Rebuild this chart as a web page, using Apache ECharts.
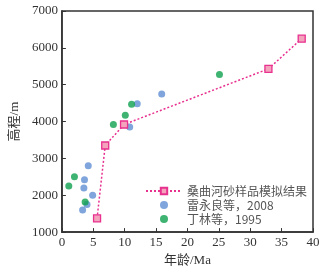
<!DOCTYPE html>
<html><head><meta charset="utf-8">
<script src="https://cdn.jsdelivr.net/npm/echarts@6/dist/echarts.min.js"></script>
<style>html,body{margin:0;padding:0;background:#fff}#c{width:330px;height:272px}</style>
</head><body><div id="c"></div>
<script>
const modelAge = [5.6, 6.9, 9.9, 32.9, 38.2];
const modelElev = [1370, 3350, 3920, 5430, 6250];
const leiAge = [4.2, 3.6, 3.5, 4.9, 4.0, 3.3, 10.8, 12.0, 15.9];
const leiElev = [2800, 2420, 2200, 2000, 1750, 1600, 3850, 4480, 4750];
const dingAge = [2.0, 1.1, 3.7, 8.2, 10.1, 11.1, 25.1];
const dingElev = [2500, 2250, 1820, 3920, 4170, 4470, 5280];
const names = ['桑曲河砂样品模拟结果', '雷永良等，2008', '丁林等，1995'];

const zip = (a, b) => a.map((v, i) => [v, b[i]]);
const F = 'Liberation Serif, "Noto Sans CJK SC", serif';
const axisCol = '#333';
const chart = echarts.init(document.getElementById('c'));
chart.setOption({
  animation: false,
  grid: {left: 56.5, right: 17, top: 11, bottom: 33, show: true, borderColor: axisCol, borderWidth: 1.5},
  xAxis: {
    type: 'value', min: 0, max: 40, interval: 5,
    name: '年龄/Ma', nameLocation: 'middle', nameGap: 17,
    nameTextStyle: {fontFamily: F, fontSize: 13, color: '#333'},
    axisLine: {show: true, lineStyle: {color: axisCol, width: 1.5}},
    axisTick: {show: true, inside: true, length: 4, lineStyle: {color: axisCol}},
    axisLabel: {fontFamily: F, fontSize: 13, color: '#333', margin: 4},
    splitLine: {show: false}
  },
  yAxis: {
    type: 'value', min: 1000, max: 7000, interval: 1000,
    name: '高程/m', nameLocation: 'middle', nameGap: 35,
    nameTextStyle: {fontFamily: F, fontSize: 13, color: '#333'},
    axisLine: {show: true, lineStyle: {color: axisCol, width: 1.5}},
    axisTick: {show: true, inside: true, length: 4, lineStyle: {color: axisCol}},
    axisLabel: {fontFamily: F, fontSize: 13, color: '#333', margin: 4, formatter: v => String(v)},
    splitLine: {show: false}
  },
  legend: {
    orient: 'vertical', left: 140, top: 180, itemGap: 2,
    itemWidth: 36, itemHeight: 8, itemTextGap: 7,
    textStyle: {fontFamily: '"Noto Sans CJK SC", sans-serif', fontSize: 12, color: '#555', lineHeight: 12},
    data: names
  },
  series: [
    {name: names[1], type: 'scatter', data: zip(leiAge, leiElev), symbol: 'circle', symbolSize: 7,
     itemStyle: {color: '#5f8fd3'}, z: 3},
    {name: names[2], type: 'scatter', data: zip(dingAge, dingElev), symbol: 'circle', symbolSize: 7,
     itemStyle: {color: '#0fa04f'}, z: 4},
    {name: names[0], type: 'line', data: zip(modelAge, modelElev), symbol: 'rect', symbolSize: 7,
     lineStyle: {color: '#e8308f', width: 1.5, type: [2, 2]},
     itemStyle: {color: '#f4a3bd', borderColor: '#e8308f', borderWidth: 1.3}, z: 5}
  ]
});
</script></body></html>
